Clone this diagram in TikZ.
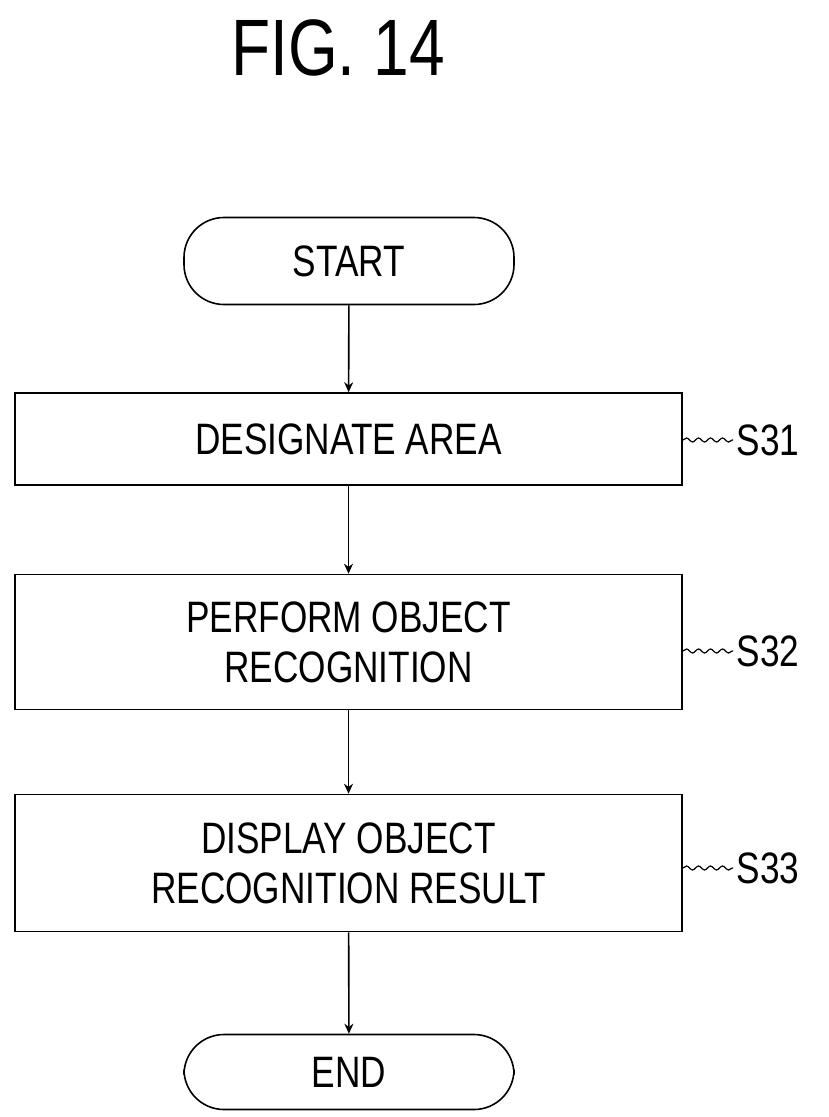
\documentclass[tikz,border=0pt]{standalone}
\usepackage{fontspec}
\newfontfamily\nar[FakeStretch=0.8]{Liberation Sans}
\usetikzlibrary{arrows.meta,decorations.pathmorphing}
\begin{document}
\begin{tikzpicture}[x=1pt,y=-1pt,
  box/.style={draw,line width=1.6pt,minimum width=667pt,font=\nar\fontsize{44}{50}\selectfont,align=center},
  term/.style={draw,line width=1.6pt,rounded corners=40pt,minimum width=330pt,font=\nar\fontsize{44}{50}\selectfont},
  arr/.style={line width=1.6pt,-{Stealth[length=10pt,width=9pt]}},
  lab/.style={font=\nar\fontsize{44}{50}\selectfont,anchor=west},
  sq/.style={line width=1.2pt,decorate,decoration={snake,amplitude=2pt,segment length=12pt}}]
\useasboundingbox (0,0) rectangle (829,1117);
\node[font=\nar\fontsize{80}{84}\selectfont] (t) at (338,48) {FIG.\ 14};
\node[term,minimum height=87pt] (s) at (349,261) {START};
\node[box,minimum height=92pt] (a) at (348.5,439) {DESIGNATE AREA};
\node[box,minimum height=135pt] (b) at (348.5,642) {PERFORM OBJECT\\RECOGNITION};
\node[box,minimum height=137pt] (c) at (348.5,863) {DISPLAY OBJECT\\RECOGNITION RESULT};
\node[term,minimum height=75pt] (e) at (349,1072) {END};
\draw[arr] (s) -- (a);
\draw[arr] (a) -- (b);
\draw[arr] (b) -- (c);
\draw[arr] (c) -- (e);
\node[lab] (l1) at (733,440) {S31};
\node[lab] (l2) at (733,651) {S32};
\node[lab] (l3) at (733,868) {S33};
\draw[sq] (l1.west -| a.east) -- (l1.west);
\draw[sq] (l2.west -| b.east) -- (l2.west);
\draw[sq] (l3.west -| c.east) -- (l3.west);
\end{tikzpicture}
\end{document}
